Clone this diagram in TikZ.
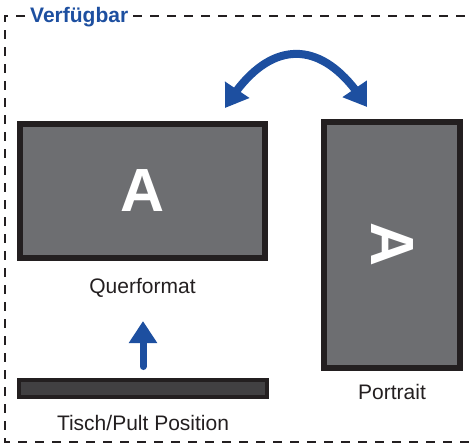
\documentclass[tikz,border=0pt]{standalone}
\usepackage{fontspec}
\setmainfont{Liberation Sans}
\usetikzlibrary{arrows.meta,bending}
\definecolor{edge}{HTML}{231F20}
\definecolor{panel}{HTML}{6D6E71}
\definecolor{slab}{HTML}{414042}
\definecolor{turn}{HTML}{1D4FA0}
\begin{document}
\begin{tikzpicture}[x=1pt,y=-1pt,
    screen/.style={draw=edge,fill=panel,line width=6pt,text=white,inner sep=0pt,
      font=\fontsize{61}{61}\selectfont\bfseries},
    caption/.style={text=edge,font=\fontsize{21}{25}\selectfont},
    frame/.style={draw=edge,line width=2pt,dash pattern=on 9pt off 8pt},
    move/.style={draw=turn,line width=8pt},
    tip/.style={Triangle[width=28pt,length=22pt]}]
  \useasboundingbox (0,0) rectangle (470,445);
  % screens
  \node[screen,minimum width=245pt,minimum height=134pt] (Q) at (142.5,191) {A};
  \node[screen,minimum width=136pt,minimum height=246pt] (P) at (392,245) {\rotatebox{-90}{A}};
  \node[draw=edge,fill=slab,line width=4pt,minimum width=248pt,minimum height=17pt,inner sep=0pt] (T) at (143,388.5) {};
  % labels
  \node[caption] (Qlabel) at (142.5,288) {Querformat};
  \node[caption] (Plabel) at (392,392) {Portrait};
  \node[caption] (Tlabel) at (143,423) {Tisch/Pult Position};
  % frame
  \node[text=turn,font=\fontsize{21}{25}\selectfont\bfseries,inner xsep=5pt,inner ysep=0pt,anchor=base west] (title) at (25,22) {Verfügbar};
  \coordinate (tl) at (5,16);
  \coordinate (bl) at (5,442);
  \coordinate (br) at (470,442);
  \coordinate (tr) at (470,16);
  \draw[frame] (title.west |- tl) -- (tl) -- (bl) -- (br);
  \draw[frame] (title.east |- tr) -- (tr);
  % arrows
  \coordinate (swapL) at (225,108);
  \coordinate (swapR) at (367,107);
  \draw[move,{Triangle[width=28pt,length=22pt]}-{Triangle[width=28pt,length=22pt]}]
    (swapL) .. controls (268,36) and (324,36) .. (swapR);
  \coordinate (upfoot) at (143,366.5);
  \coordinate (uptip) at (143,321);
  \draw[move,line width=7pt,line cap=round,-{Triangle[width=27pt,length=22pt]}] (upfoot) -- (uptip);
\end{tikzpicture}
\end{document}
